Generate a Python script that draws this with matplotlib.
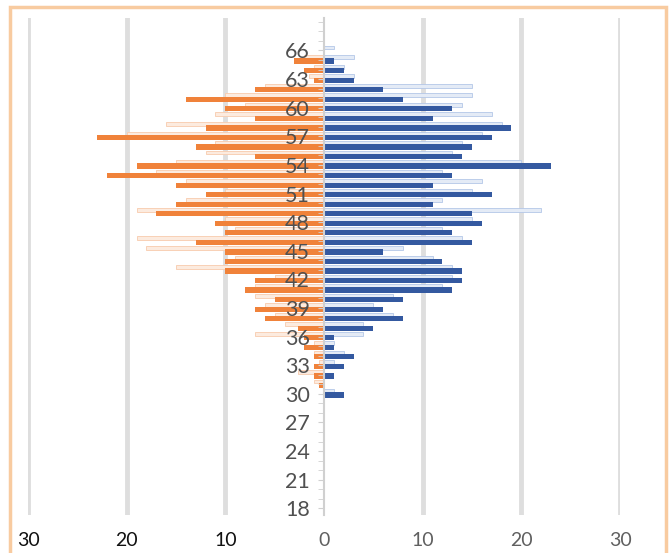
import matplotlib.pyplot as plt
import numpy as np
from matplotlib.patches import Rectangle
from matplotlib.ticker import MultipleLocator

plt.rcParams['font.family'] = ['Lato', 'DejaVu Sans']

# ages from 30 (bottom) up to 66 (top)
ages = np.arange(30, 67)
# right side (blue), dark series and light series
blue_dark = [2, 0, 1, 2, 3, 1, 1, 5, 8, 6, 8, 13, 14, 14, 12, 6, 15, 13, 16, 15,
             11, 17, 11, 13, 23, 14, 15, 17, 19, 11, 13, 8, 6, 3, 2, 1, 0]
blue_light = [1, 0, 0, 1, 2, 1, 4, 4, 7, 5, 7, 12, 13, 13, 11, 8, 14, 12, 15, 22,
              12, 15, 16, 12, 20, 13, 14, 16, 18, 17, 14, 15, 15, 3, 2, 3, 1]
# left side (orange), dark series and light series
orange_dark = [0, 0.5, 1, 1, 1, 2, 2, 2.6, 6, 7, 5, 8, 7, 10, 10, 10, 13, 10, 11, 17,
               15, 12, 15, 22, 19, 7, 13, 23, 12, 7, 10, 14, 7, 1, 2, 3, 0]
orange_light = [0, 1, 2.6, 0.5, 1, 1, 7, 4, 5, 6, 7, 7, 5, 15, 9, 18, 19, 9, 10, 19,
                14, 10, 14, 17, 15, 12, 11, 20, 16, 11, 8, 10, 6, 1.5, 1, 2, 0]

fig = plt.figure(figsize=(6.69, 5.53), dpi=100)
ax = fig.add_axes([28 / 669, 38 / 553, 592 / 669, 497 / 553])
ax.set_axisbelow(False)

# light bars sit just above the dark ones
ax.barh(ages + 0.3, blue_light, height=0.4, color='#E4EBF6', edgecolor='#B4C7E7', lw=0.6, zorder=1.8)
ax.barh(ages + 0.3, [-v for v in orange_light], height=0.4, color='#FCEBDF', edgecolor='#F8CBAD', lw=0.6, zorder=1.8)
ax.barh(ages - 0.12, blue_dark, height=0.55, color='#3459A0', zorder=2)
ax.barh(ages - 0.12, [-v for v in orange_dark], height=0.55, color='#F0823A', zorder=2)

ax.set_xlim(-30, 30)
ax.set_ylim(17.3, 69.4)

for x in range(-30, 31, 10):
    if x != 0:
        ax.axvline(x, color='#DEDEDE', lw=3.5, zorder=1)

for s in ['top', 'right', 'bottom']:
    ax.spines[s].set_visible(False)
ax.spines['left'].set_position(('data', 0))
ax.spines['left'].set_color('#D0D0D0')
ax.spines['left'].set_linewidth(1.5)

ax.yaxis.set_major_locator(MultipleLocator(3))
ax.yaxis.set_minor_locator(MultipleLocator(1))
ax.set_yticks(np.arange(18, 67, 3))
ax.tick_params(axis='y', which='both', direction='out', length=4, color='#D0D0D0',
               labelsize=15.5, labelcolor='#505050', pad=6)

xt = [-30, -20, -10, 0, 10, 20, 30]
ax.set_xticks(xt)
ax.set_xticklabels([str(abs(v)) for v in xt])
ax.tick_params(axis='x', length=0, labelsize=14, pad=12)
for lab, v in zip(ax.get_xticklabels(), xt):
    lab.set_color('#111111' if v < 0 else '#606060')

# orange frame round the chart
fig.patches.append(Rectangle((10 / 669, -0.05), 656 / 669, 1.05 - 7 / 553,
                             transform=fig.transFigure, fill=False,
                             edgecolor='#F8CBA0', lw=2.5))

fig.savefig('out.png', dpi=100)
